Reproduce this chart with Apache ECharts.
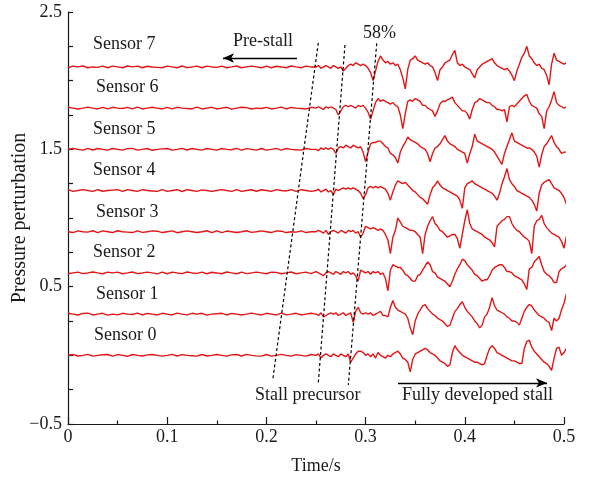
<!DOCTYPE html>
<html><head><meta charset="utf-8">
<script src="https://cdn.jsdelivr.net/npm/echarts@6/dist/echarts.min.js"></script>
<style>html,body{margin:0;padding:0;background:#fff}#c{width:591px;height:482px}</style>
</head><body><div id="c"></div>
<script>
// ---------- DATA ----------
const sensorNames = ['Sensor 0','Sensor 1','Sensor 2','Sensor 3','Sensor 4','Sensor 5','Sensor 6','Sensor 7'];
const offsets = [0, 0.3, 0.6, 0.9, 1.2, 1.5, 1.8, 2.1];
const xTickValues = [0, 0.1, 0.2, 0.3, 0.4, 0.5];
const xTickLabels = ['0', '0.1', '0.2', '0.3', '0.4', '0.5'];
const yTickValues = [-0.5, 0.5, 1.5, 2.5];
const yTickLabels = ['\u22120.5', '0.5', '1.5', '2.5'];
const preStep = 0.005;      // pre-stall samples: t = 0 .. 0.245
const stallStart = 0.25;    // stall samples: t = 0.25 .. 0.5075
const stallStep = 0.0025;

// deviation from each sensor's offset, pre-stall part
const pre0 = [0,.006,-.005,0,.007,-.006,0,.004,.006,-.006, .005,0,-.007,.006,0,-.005,.003,.006,0,-.006, 0,.007,-.005,.005,0,-.003,-.006,.006,-.005,0, .006,0,-.006,.003,.006,-.005,.007,0,-.004,-.006, .006,-.006,0,.007,0,-.006,.005,0,-.006,.006];
const pre1 = [.006,0,-.006,.005,.007,-.006,0,.006,-.007,0, -.005,.006,0,-.003,.007,-.006,.005,0,-.006,.006, 0,-.006,.007,0,-.005,.006,0,.006,-.007,0, .003,.006,-.006,.005,0,-.006,0,.007,0,-.006, .006,0,-.006,.007,-.005,0,.006,-.006,0,.006];
const pre2 = [-.006,0,.006,-.005,0,.007,0,-.006,.006,0, .006,-.006,0,.007,-.005,0,.006,0,-.007,.006, -.006,.006,0,-.005,.007,0,-.003,.006,-.006,.005, 0,-.006,.007,0,-.006,.006,-.005,0,.006,0, -.006,.006,.004,-.006,0,.007,-.006,0,.006,-.005];
const pre3 = [0,-.006,.006,0,-.003,.007,-.006,.006,0,-.006, .007,0,-.003,-.006,.006,-.005,0,.006,.004,-.006, 0,.006,-.007,0,.006,0,-.006,0,.007,-.006, .006,-.006,.005,0,-.006,0,.007,-.005,0,.006, 0,-.006,.006,.004,-.006,0,-.003,.006,-.006,0];
const pre4 = [.006,-.006,0,.007,0,-.006,.006,-.005,0,.003, .006,-.006,.007,0,-.006,.006,0,-.003,-.006,.006, -.006,0,.006,-.007,.006,0,-.006,.005,0,-.006, 0,.007,0,-.006,.006,-.006,0,.006,-.005,.006, 0,-.006,.007,0,-.003,.006,-.006,.006,0,-.006];
const pre5 = [0,.006,0,-.006,.007,-.005,.006,0,-.006,.006, 0,-.006,.005,.007,-.006,0,.006,-.007,0,.003, .006,-.006,0,.007,-.005,.006,0,-.006,.006,0, -.006,.006,0,-.003,.007,-.006,.005,0,-.006,.006, -.006,0,.007,-.006,.006,0,-.003,-.006,.006,0];
const pre6 = [.006,0,-.006,0,.007,0,-.006,.006,-.005,.006, 0,-.003,.006,-.006,.007,-.006,0,.006,0,-.006, .006,-.005,.006,0,-.003,-.006,.007,-.006,0,.006, -.006,0,.006,-.007,0,.006,.004,-.006,0,-.003, .006,-.006,0,.007,-.006,.005,0,-.003,-.006,.006];
const pre7 = [-.006,.006,0,.007,-.006,0,-.003,.006,-.006,.006, 0,-.006,.007,0,.006,-.006,.005,0,-.003,-.006, .006,0,-.006,.007,-.005,0,.006,-.006,.006,0, -.003,.006,-.006,0,.007,-.006,0,.006,0,-.006, .006,-.006,.005,0,-.006,.007,0,-.006,.006,0];

// deviation from each sensor's offset, precursor + stall part
const stall0 = [0,.01,-.02,0,.01,0,-.01,.01,0,-.01, .01,0,-.01,.01,-.05,-.02,.01,.03,.03,.02, 0,.01,-.01,.01,-.02,.02,0,-.01,-.02,0,
  -.01,.01,.02,.03,.01,-.02,-.03,-.05,-.12,-.03, .01,.02,.03,.04,.05,.04,.02,.01,0,-.02, -.04,-.05,-.06,-.08,-.07,.02,.07,.04,.02,0,
  -.01,-.02,-.03,-.04,-.05,-.05,-.06,-.07,-.06,0, .05,.07,.05,.02,.01,0,-.01,-.02,-.03,-.04, -.04,-.05,-.06,-.06,.05,.10,.11,.06,.03,.01,
  -.01,-.03,-.05,-.06,-.08,-.11,-.02,.05,.06,0, .02,.05,.09,.10];
const stall1 = [0,-.01,.01,-.02,-.01,0,.01,0,.01,-.01, 0,.01,-.01,0,.01,-.06,.02,.05,.01,0, .01,0,.01,-.01,0,.01,.02,-.01,-.01,-.02,
  .05,.10,.05,.03,.02,.01,0,-.03,-.10,-.15, -.05,0,.03,.06,.07,.04,.02,0,-.01,-.03, -.04,-.05,-.07,-.09,-.08,-.03,.02,.04,.07,.09,
  .05,.02,0,-.02,-.05,-.07,-.10,-.08,-.02,0, .05,.12,.06,.03,.02,.01,0,-.02,-.03,-.05, -.05,-.06,-.08,-.03,.02,.05,.07,.06,.03,.01,
  -.01,-.02,-.03,-.05,-.06,-.12,-.03,-.05,-.03,.03, .08,.15,.12,.13];
const stall2 = [.01,0,-.01,-.02,0,.01,0,-.01,.01,0, -.01,.01,0,.01,-.01,0,-.02,-.06,.02,.01, 0,.01,-.01,.01,0,.01,-.01,0,-.04,-.13,
  .02,.06,.05,.04,.04,.02,-.01,-.02,-.04,-.06, -.06,-.02,-.01,.02,.05,.08,.06,.01,0,-.03, -.04,-.05,-.06,-.08,-.10,-.06,-.01,.03,.06,.10,
  .09,.06,.04,.02,-.01,-.02,-.04,-.06,-.05,-.05, -.02,.02,.04,.05,.06,.06,.04,.01,.01,0, -.02,-.03,-.04,-.05,-.08,-.12,.03,.04,.08,.10,
  .12,.06,.01,-.01,-.02,-.04,-.07,-.07,.01,.03, .04,.06,.08,.10];
const stall3 = [0,.01,0,-.01,.01,-.02,0,.01,0,-.01, .01,0,-.01,.01,0,.01,-.01,0,-.04,-.01, .04,.03,.02,.03,.02,.01,.02,.01,-.02,-.06,
  -.16,-.04,.01,.10,.07,.04,.03,.02,.01,.01, 0,-.02,-.04,-.16,-.02,.04,.08,.11,.06,.04, .01,0,-.02,-.04,-.03,-.02,-.02,-.05,-.12,-.02,
  .08,.16,.06,.02,.01,0,-.01,-.02,-.04,-.05, -.06,-.08,-.11,.04,.06,.08,.09,.11,.11,.06, .03,.01,0,-.02,-.04,-.05,-.07,-.16,.04,.08,
  .09,.12,.06,.03,.01,-.01,-.02,-.03,-.04,-.07, -.12,-.03,.01,.02];
const stall4 = [0,.01,-.01,0,.01,-.01,0,-.03,.01,0, .01,.02,.01,.02,.01,.02,.01,0,-.02,-.06, -.03,.02,.03,.02,.03,.02,.03,.02,.01,-.02,
  -.07,-.01,.04,.07,.06,.05,.06,.04,.02,0, -.01,-.03,-.05,-.06,-.08,-.10,-.03,.02,.04,.07, .04,.02,.01,0,-.01,-.02,-.03,-.04,-.07,-.13,
  .02,.05,.06,.07,.05,.04,.03,.02,.01,0, -.01,-.02,-.04,-.07,-.02,.05,.10,.16,.08,.05, .03,0,-.01,-.02,-.03,-.04,-.05,-.07,-.10,-.15,
  -.02,.04,.06,.07,.08,.05,.02,.01,0,-.02, -.05,-.10,.04,.03];
const stall5 = [0,-.01,.01,0,.01,0,.01,0,-.03,.01, .02,.01,.03,.02,.01,.03,.02,.01,.02,-.02, -.09,-.02,.04,.05,.05,.06,.06,.04,.02,.01,
  -.03,-.04,-.06,-.10,-.02,.02,.05,.09,.07,.06, .05,.04,.02,.01,0,-.03,-.09,-.03,.01,.02, .04,.07,.10,.06,.04,.03,.02,0,-.01,-.02,
  -.03,-.10,-.03,.02,.11,.06,.05,.04,.03,.02, .01,0,-.02,-.05,-.08,-.11,-.03,.02,.07,.12, .06,.05,.04,.03,.02,.01,.01,0,-.02,-.05,
  -.13,-.04,.02,.04,.07,.10,.05,.02,0,-.03, -.02,-.02,-.02,-.01];
const stall6 = [0,.01,0,-.01,.01,0,.01,0,-.01,-.05, -.02,.01,.02,.01,.02,.01,0,.02,.01,.02, 0,-.03,-.08,-.02,.04,.07,.05,.06,.05,.04,
  .03,.04,.02,.01,-.05,-.15,-.04,.05,.06,.05, .07,.06,.05,.02,.02,0,-.01,-.02,-.06,-.02, .03,.05,.05,.06,.07,.08,.04,.02,0,-.02,
  -.02,-.04,-.08,-.01,.04,.05,.07,.06,.05,.04, .04,.02,.01,-.01,-.01,-.02,-.01,-.10,.01,.02, .01,.03,.05,.07,.09,.10,.05,.02,.01,0,
  -.04,-.06,-.15,-.02,.01,.06,.12,.04,.02,.01, 0,.01,0,.01];
const stall7 = [0,.01,-.01,0,.01,0,-.01,.01,0,-.01, 0,-.03,-.01,.01,.02,.01,.03,.02,.01,.02, .01,-.01,-.04,-.10,-.03,.04,.08,.05,.03,.04,
  .02,.03,.01,.02,-.02,-.08,-.16,-.02,.05,.06, .08,.05,.04,.03,.02,.03,.01,0,-.04,-.10, -.02,0,.03,.04,.05,.09,.12,.03,.01,.02,
  0,-.01,-.02,-.05,-.08,-.02,0,.02,.03,.04, .05,.06,.03,.01,0,-.01,-.02,-.01,-.03,-.06, -.10,-.03,.02,.07,.10,.15,.08,.06,.03,.01,
  .02,-.01,-.02,-.06,-.13,.02,.10,.05,.04,.03, .02,.03,.01,.02];

// ---------- LAYOUT / STYLE ----------
const FONT = "'Liberation Serif','Times New Roman',serif";
const RED = '#e31515';
const INK = '#1a1a1a';
const labelLeft = [94, 96, 93, 96, 93, 93, 96, 93];
const labelMidY = [335, 294, 252, 212, 170, 129, 87, 44];

const preArr = [pre0, pre1, pre2, pre3, pre4, pre5, pre6, pre7];
const stallArr = [stall0, stall1, stall2, stall3, stall4, stall5, stall6, stall7];

function buildData(k) {
  const a = preArr[k].map((d, i) => [+(i * preStep).toFixed(4), +(offsets[k] + d).toFixed(4)]);
  const b = stallArr[k].map((d, j) => [+(stallStart + j * stallStep).toFixed(4), +(offsets[k] + d).toFixed(4)]);
  return a.concat(b);
}

const lineSeries = sensorNames.map((n, k) => ({
  type: 'line', name: n, data: buildData(k), symbol: 'none', showSymbol: false,
  clip: false, silent: true, animation: false, z: 2,
  lineStyle: { color: RED, width: 1.4 }
}));

const dashedLines = {
  type: 'line', data: [], silent: true, animation: false, z: 5,
  markLine: {
    silent: true, animation: false, symbol: ['none', 'none'], label: { show: false },
    lineStyle: { color: '#000', type: [3, 2.5], width: 1.2 },
    emphasis: { disabled: true },
    data: [
      [{ coord: [0.2523, 2.276] }, { coord: [0.2064, -0.179] }],
      [{ coord: [0.2792, 2.26] }, { coord: [0.2523, -0.203] }],
      [{ coord: [0.3112, 2.272] }, { coord: [0.2826, -0.215] }]
    ]
  }
};
const arrows = {
  type: 'line', data: [], silent: true, animation: false, z: 5,
  markLine: {
    silent: true, animation: false, symbol: ['none', 'arrow'], symbolSize: [7, 11], label: { show: false },
    lineStyle: { color: '#000', type: 'solid', width: 1.3 },
    emphasis: { disabled: true },
    data: [
      [{ coord: [0.2308, 2.165] }, { coord: [0.1563, 2.165] }],
      [{ coord: [0.3327, -0.201] }, { coord: [0.4829, -0.201] }]
    ]
  }
};

const txt = (text, left, top) => ({ type: 'text', left, top, silent: true,
  style: { text, font: '18px ' + FONT, fill: INK } });

const chart = echarts.init(document.getElementById('c'), null, { renderer: 'canvas' });
chart.setOption({
  animation: false,
  backgroundColor: '#fff',
  grid: { left: 68, right: 27, top: 12, bottom: 58, containLabel: false, outerBoundsMode: 'none' },
  xAxis: {
    type: 'value', min: 0, max: 0.5, interval: 0.1,
    name: 'Time/s', nameLocation: 'middle', nameGap: 33, nameMoveOverlap: false,
    nameTextStyle: { fontFamily: FONT, fontSize: 18, color: INK },
    axisLine: { show: true, onZero: false, lineStyle: { color: INK, width: 1.2 } },
    axisTick: { show: true, inside: true, length: 7, lineStyle: { color: INK, width: 1.2 } },
    minorTick: { show: true, splitNumber: 2, length: 3.5, lineStyle: { color: INK, width: 1.2 } },
    splitLine: { show: false },
    axisLabel: { fontFamily: FONT, fontSize: 18, color: INK, margin: 4,
      formatter: v => { const i = xTickValues.findIndex(x => Math.abs(x - v) < 1e-6); return i >= 0 ? xTickLabels[i] : ''; } }
  },
  yAxis: {
    type: 'value', min: -0.5, max: 2.5, interval: 0.25,
    name: 'Pressure perturbation', nameLocation: 'middle', nameGap: 38, nameRotate: 90, nameMoveOverlap: false,
    nameTextStyle: { fontFamily: FONT, fontSize: 20, color: INK },
    axisLine: { show: true, onZero: false, lineStyle: { color: INK, width: 1.2 } },
    axisTick: { show: true, inside: true, length: 5, lineStyle: { color: INK, width: 1.2 } },
    splitLine: { show: false },
    axisLabel: { fontFamily: FONT, fontSize: 18, color: INK, margin: 6,
      formatter: v => { const i = yTickValues.findIndex(y => Math.abs(y - v) < 1e-6); return i >= 0 ? yTickLabels[i] : ''; } }
  },
  series: lineSeries.concat([dashedLines, arrows]),
  graphic: sensorNames.map((n, k) => txt(n, labelLeft[k], labelMidY[k] - 9)).concat([
    txt('Pre-stall', 233, 32),
    txt('58%', 363, 24),
    txt('Stall precursor', 255, 386),
    txt('Fully developed stall', 402, 386)
  ])
});
</script>
</body></html>
